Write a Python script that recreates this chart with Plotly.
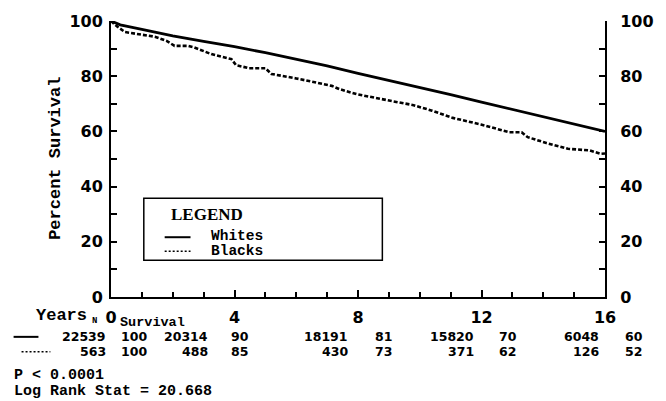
import plotly.graph_objects as go

# ---------------- data ----------------
white_years = [0, 0.3, 1, 2, 3, 4, 5, 6, 7, 8, 9, 10, 11, 12, 13, 14, 15, 16]
white_surv = [100, 98.6, 97.0, 94.6, 92.6, 90.7, 88.5, 86.2, 83.7, 81.0, 78.5, 76.0, 73.3, 70.6, 68.0, 65.3, 62.6, 60.0]

black_years = [0, 0.2, 0.45, 0.87, 1.42, 1.8, 2.06, 2.48, 2.7, 3.25, 3.9, 4.05, 4.47, 5.0, 5.2, 6.0,
               6.6, 7.15, 7.4, 7.95, 9.14, 9.8, 10.4, 11.07, 11.98, 12.9, 13.3, 13.5, 14.1, 14.8,
               15.5, 15.85, 16]
black_surv = [100, 98, 96, 95.2, 94.3, 92.8, 91, 91, 90.4, 88, 86.2, 84, 82.9, 82.9, 80.8, 79.2,
              77.8, 76.5, 75.3, 73.5, 70.9, 69.5, 67.5, 64.9, 62.5, 59.7, 59.7, 57.9, 55.8, 53.7,
              53.1, 51.9, 52]

table_years = [0, 4, 8, 12, 16]
white_n = [22539, 20314, 18191, 15820, 6048]
white_pct = [100, 90, 81, 70, 60]
black_n = [563, 488, 430, 371, 126]
black_pct = [100, 85, 73, 62, 52]

x_ticks = [0, 4, 8, 12, 16]
y_ticks = [0, 20, 40, 60, 80, 100]

# ---------------- layout geometry ----------------
W, H = 666, 401
L, R, T, B = 111, 58, 20, 104
PW, PH = W - L - R, H - T - B

def px_x(px):
    return (px - L) / PW

def px_y(py):
    return (H - B - py) / PH

n_shift = [-4, -26, -9, -7, -5]
p_shift = [9, -5, 16, 16, 19]
row_y = [337, 352]

MONO = "Liberation Mono"
SANS = "DejaVu Sans"

fig = go.Figure()
fig.add_trace(go.Scatter(x=white_years, y=white_surv, mode="lines", name="Whites",
                         line=dict(color="black", width=2.8), showlegend=False))
fig.add_trace(go.Scatter(x=black_years, y=black_surv, mode="lines", name="Blacks",
                         line=dict(color="black", width=2.6, dash="4px,2px"), showlegend=False))
fig.add_trace(go.Scatter(x=[None], y=[None], yaxis="y2", showlegend=False, hoverinfo="skip"))

tickfont = dict(family=SANS, size=16, color="black", weight="bold")

fig.update_layout(
    width=W, height=H,
    margin=dict(l=L, r=R, t=T, b=B, pad=0),
    paper_bgcolor="white", plot_bgcolor="white",
    xaxis=dict(range=[0, 16], tickvals=x_ticks, showgrid=False, zeroline=False,
               showline=True, linecolor="black", linewidth=2,
               ticks="inside", ticklen=7, tickwidth=2, tickcolor="black",
               minor=dict(dtick=1, ticks="inside", ticklen=5, tickwidth=1.5, tickcolor="black"),
               tickfont=tickfont, ticklabelstandoff=5),
    yaxis=dict(range=[0, 100], tickvals=y_ticks, showgrid=False, zeroline=False,
               showline=True, linecolor="black", linewidth=2,
               ticks="inside", ticklen=6, tickwidth=2, tickcolor="black",
               minor=dict(dtick=10, ticks="inside", ticklen=6, tickwidth=1.5, tickcolor="black"),
               tickfont=tickfont, ticklabelstandoff=3),
    yaxis2=dict(range=[0, 100], tickvals=y_ticks, overlaying="y", side="right",
                showgrid=False, zeroline=False,
                showline=True, linecolor="black", linewidth=2,
                ticks="inside", ticklen=6, tickwidth=2, tickcolor="black",
                minor=dict(dtick=10, ticks="inside", ticklen=6, tickwidth=1.5, tickcolor="black"),
                tickfont=tickfont, ticklabelstandoff=10),
    showlegend=False,
)

ann = []
def text(x, y, s, size, family=MONO, xanchor="left", yanchor="middle", xref="paper", xshift=0,
         angle=0, weight="bold"):
    ann.append(dict(x=x, y=y, xref=xref, yref="paper", text=s, showarrow=False,
                    xanchor=xanchor, yanchor=yanchor, xshift=xshift, textangle=angle,
                    borderpad=0,
                    font=dict(family=family, size=size, color="black", weight=weight)))

# y-axis title
text(px_x(55), px_y(158), "Percent Survival", 17, angle=-90, xanchor="center")

# legend box content
text(px_x(170), px_y(214), "LEGEND", 17, family="Liberation Serif")
text(px_x(211), px_y(235.5), "Whites", 14.5)
text(px_x(211), px_y(251), "Blacks", 14.5)

# table header
text(px_x(35), px_y(316), "Years", 17)
text(px_x(91), px_y(321), "N", 9)
text(px_x(119), px_y(323), "Survival", 13.5)

for i, yr in enumerate(table_years):
    text(yr, px_y(row_y[0]), str(white_n[i]), 12.5, family=SANS, xanchor="right", xref="x",
         xshift=n_shift[i])
    text(yr, px_y(row_y[0]), str(white_pct[i]), 12.5, family=SANS, xanchor="left", xref="x",
         xshift=p_shift[i])
    text(yr, px_y(row_y[1]), str(black_n[i]), 12.5, family=SANS, xanchor="right", xref="x",
         xshift=n_shift[i])
    text(yr, px_y(row_y[1]), str(black_pct[i]), 12.5, family=SANS, xanchor="left", xref="x",
         xshift=p_shift[i])

text(px_x(12), px_y(375.5), "P &lt; 0.0001", 15)
text(px_x(12), px_y(391.5), "Log Rank Stat = 20.668", 15)

shapes = [
    dict(type="rect", xref="paper", yref="paper", x0=px_x(144), x1=px_x(384),
         y0=px_y(198), y1=px_y(260), line=dict(color="black", width=1.5)),
    dict(type="line", xref="paper", yref="paper", x0=px_x(165), x1=px_x(191),
         y0=px_y(237), y1=px_y(237), line=dict(color="black", width=2)),
    dict(type="line", xref="paper", yref="paper", x0=px_x(165), x1=px_x(191),
         y0=px_y(251), y1=px_y(251), line=dict(color="black", width=1.5, dash="2px,2px")),
    dict(type="line", xref="paper", yref="paper", x0=px_x(13), x1=px_x(38),
         y0=px_y(337), y1=px_y(337), line=dict(color="black", width=2)),
    dict(type="line", xref="paper", yref="paper", x0=px_x(21), x1=px_x(50),
         y0=px_y(352), y1=px_y(352), line=dict(color="black", width=1.5, dash="2px,2px")),
]

fig.update_layout(annotations=ann, shapes=shapes)
fig.write_html("out.html",
               config={"displayModeBar": False},
               post_script="document.body.style.margin='0';document.body.style.overflow='hidden';")
